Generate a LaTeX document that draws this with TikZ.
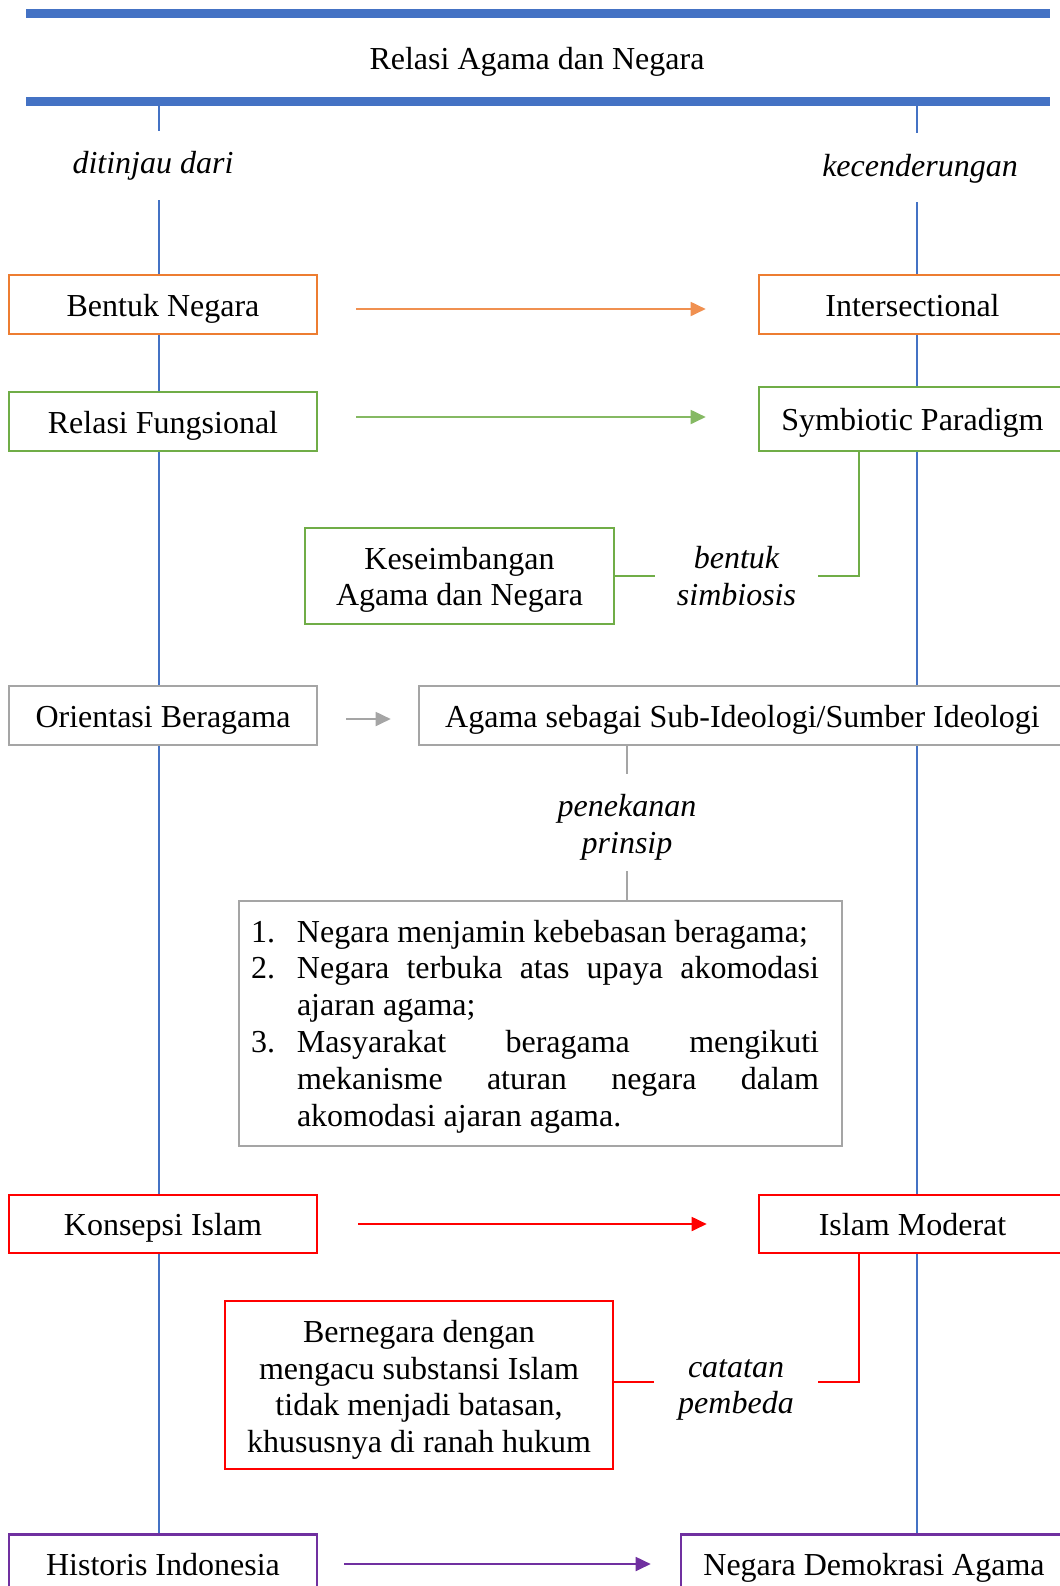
\documentclass[tikz,border=0pt]{standalone}
\usepackage{fontspec}
\setmainfont{Liberation Serif}
\usetikzlibrary{arrows.meta}
\definecolor{cblue}{HTML}{4472C4}
\definecolor{corange}{HTML}{ED7D31}
\definecolor{cgreen}{HTML}{70AD47}
\definecolor{cgray}{HTML}{A5A5A5}
\definecolor{cred}{HTML}{FF0000}
\definecolor{cpurple}{HTML}{7030A0}
\pgfdeclarelayer{bg}
\pgfsetlayers{bg,main}
\newcommand\lstline[3]{\makebox[289.5pt][l]{\makebox[23pt][l]{#1}\makebox[261pt][#2]{#3}}}
\begin{document}
\begin{tikzpicture}[x=0.5pt,y=-0.5pt,
  font=\fontsize{16}{18.2}\selectfont,
  one/.style={text height=14.5pt, text depth=3pt},
  box/.style={draw, line width=1.3pt, fill=white, inner sep=0pt, align=center},
  lbl/.style={inner sep=0pt, align=center, font=\fontsize{16}{18.2}\selectfont\itshape},
  arr/.style={line width=0.9pt, -{Triangle[length=7.5pt,width=7pt]}},
  conn/.style={line width=0.9pt},
  bline/.style={draw=cblue, line width=0.6pt}]
\useasboundingbox (0,0) rectangle (1060,1586);

% header
\fill[cblue] (26,9) rectangle (1050,18);
\fill[cblue] (26,97) rectangle (1050,106);
\node[one] (title) at (537,58) {Relasi Agama dan Negara};
\node[lbl, one] (dt) at (153,162) {ditinjau dari};
\node[lbl, one] (kc) at (920,165) {kecenderungan};

% boxes
\node[box, one, draw=corange, minimum width=154pt, minimum height=29.5pt] (bn) at (163,304.5) {Bentuk Negara};
\node[box, one, draw=corange, minimum width=153.5pt, minimum height=29.5pt] (is) at (912.5,304.5) {Intersectional};

\node[box, one, draw=cgreen, minimum width=154pt, minimum height=29.5pt] (rf) at (163,421.5) {Relasi Fungsional};
\node[box, one, draw=cgreen, minimum width=153.5pt, minimum height=32pt] (sp) at (912.5,419) {Symbiotic Paradigm};
\node[box, draw=cgreen, minimum width=154.5pt, minimum height=48pt] (ks) at (459.5,576) {\rule{0pt}{15pt}Keseimbangan\\Agama dan Negara};
\node[lbl, minimum width=81.5pt] (bs) at (736.5,576) {bentuk\\simbiosis};

\node[box, one, draw=cgray, minimum width=154pt, minimum height=29.5pt] (ob) at (163,715.5) {Orientasi Beragama};
\node[box, one, draw=cgray, minimum width=323.5pt, minimum height=29.5pt] (ag) at (742.5,715.5) {Agama sebagai Sub-Ideologi/Sumber Ideologi};
\node[lbl, minimum height=48.5pt] (pp) at (627,822.5) {\rule{0pt}{16pt}penekanan\\prinsip};
\node[draw=cgray, line width=1.3pt, fill=white, inner sep=0pt, minimum width=301.5pt, minimum height=122.5pt, align=left, font=\fontsize{16}{18.4}\selectfont] (lb) at (540.5,1023.5) {%
\rule{0pt}{14pt}\lstline{1.}{l}{Negara menjamin kebebasan beragama;}\\
\lstline{2.}{s}{Negara terbuka atas upaya akomodasi}\\
\lstline{}{l}{ajaran agama;}\\
\lstline{3.}{s}{Masyarakat beragama mengikuti}\\
\lstline{}{s}{mekanisme aturan negara dalam}\\
\lstline{}{l}{akomodasi ajaran agama.}};

\node[box, one, draw=cred, minimum width=154pt, minimum height=29pt] (ki) at (163,1224) {Konsepsi Islam};
\node[box, one, draw=cred, minimum width=153.5pt, minimum height=29pt] (im) at (912.5,1224) {Islam Moderat};
\node[box, draw=cred, minimum width=194pt, minimum height=84pt] (bg) at (419,1385) {\rule{0pt}{16pt}Bernegara dengan\\mengacu substansi Islam\\tidak menjadi batasan,\\khususnya di ranah hukum};
\node[lbl, minimum width=82pt] (cp) at (736,1382) {\rule{0pt}{16.8pt}catatan\\pembeda};

\node[box, one, draw=cpurple, minimum width=154pt, minimum height=29.5pt] (hi) at (163,1564) {Historis Indonesia};
\node[box, one, draw=cpurple, minimum width=193pt, minimum height=29.5pt] (nd) at (874,1564) {Negara Demokrasi Agama};

% blue guide lines
\coordinate (lt) at (159,106);
\coordinate (rt) at (917,106);
\begin{pgfonlayer}{bg}
\fill[white] (0,0) rectangle (1060,1586);
\draw[bline] (lt) -- (lt |- 0,131);
\draw[bline] (lt |- 0,200) -- (lt |- hi.north);
\draw[bline] (rt) -- (rt |- 0,133);
\draw[bline] (rt |- 0,202) -- (rt |- nd.north);
\end{pgfonlayer}

% arrows
\draw[arr, draw=corange!85, fill=corange, shorten <=19pt, shorten >=26pt] ([yshift=-2.25pt]bn.east) -- ([yshift=-2.25pt]is.west);
\draw[arr, draw=cgreen!85, fill=cgreen, shorten <=19pt, shorten >=26pt] ([yshift=1pt]rf.east |- sp.west) -- ([yshift=1pt]sp.west);
\draw[arr, cgray, shorten <=14pt, shorten >=13.5pt] ([yshift=-1.75pt]ob.east) -- ([yshift=-1.75pt]ag.west);
\draw[arr, cred, shorten <=20pt, shorten >=25.5pt] (ki.east) -- (im.west);
\draw[arr, cpurple, shorten <=13pt, shorten >=14.5pt] (hi.east) -- (nd.west);

% side connectors
\coordinate (sg) at (859,451);
\draw[conn, cgreen] (ks.east) -- (bs.west);
\draw[conn, cgreen] (bs.east) -| (sg);
\draw[conn, cgray] (pp.north |- ag.south) -- (pp.north);
\draw[conn, cgray] (pp.south) -- (pp.south |- lb.north);
\coordinate (rg) at (859,1253.5);
\draw[conn, cred] (cp.west -| bg.east) -- (cp.west);
\draw[conn, cred] (cp.east) -| (rg);
\end{tikzpicture}
\end{document}
